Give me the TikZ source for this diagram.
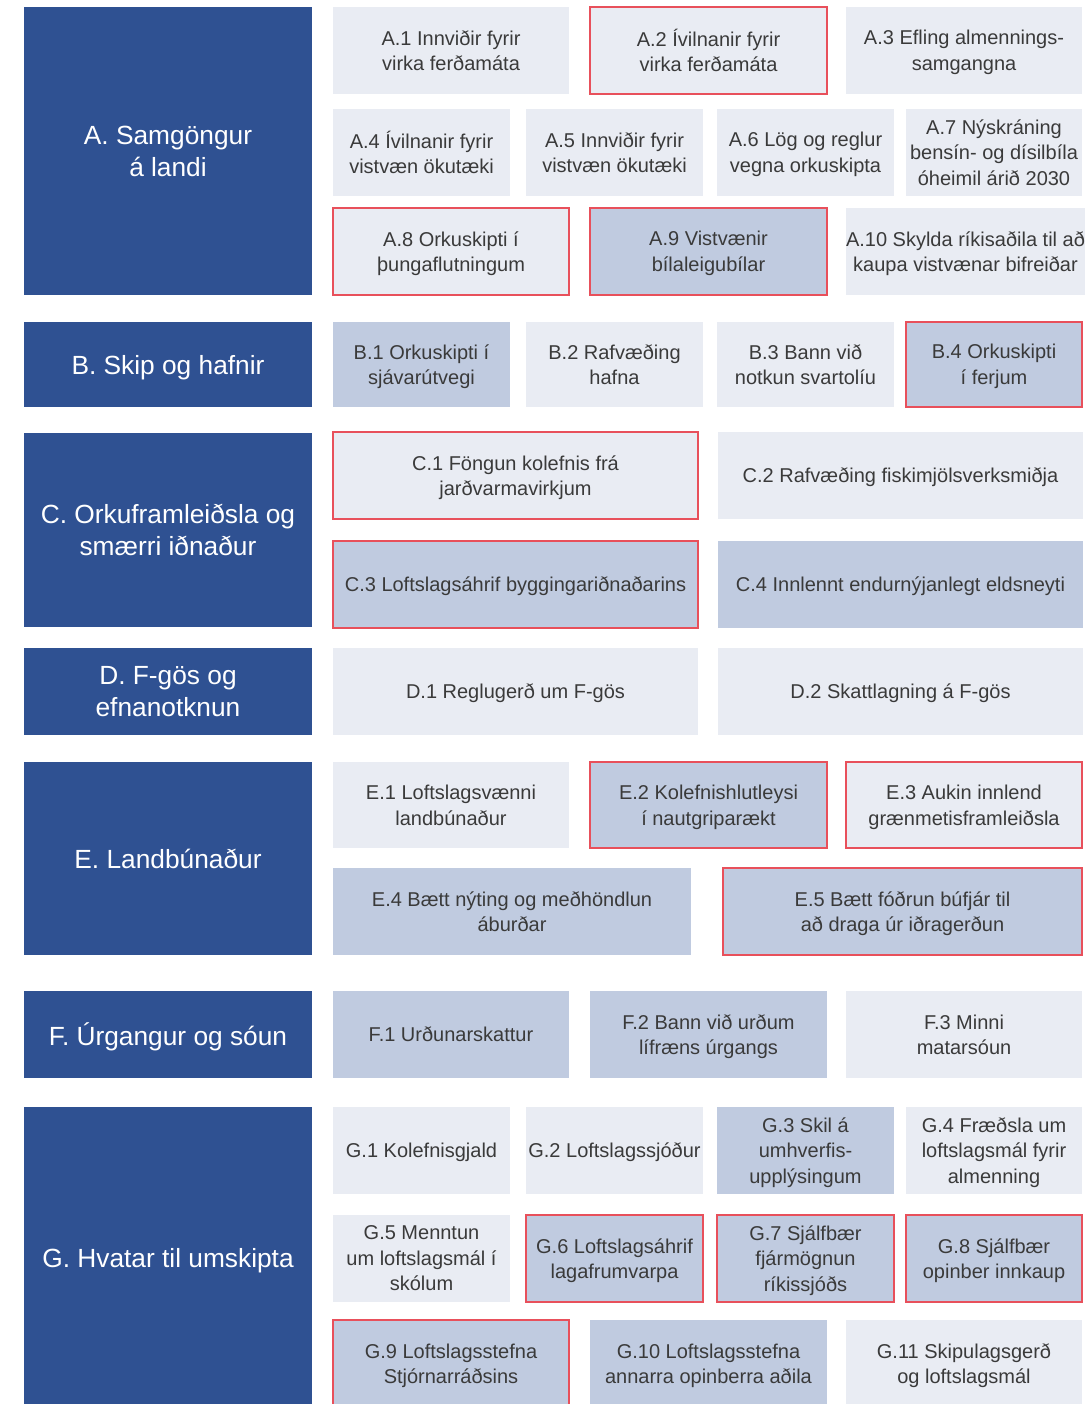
\documentclass[tikz,border=0pt]{standalone}
\usepackage{fontspec}
\setmainfont{Liberation Sans}
\usepackage{tikz}
\usetikzlibrary{positioning}
\definecolor{headblue}{HTML}{2F5192}
\definecolor{lightcell}{HTML}{E9ECF3}
\definecolor{midcell}{HTML}{C0CBE0}
\definecolor{flagred}{HTML}{E8505B}
\definecolor{cellText}{HTML}{3A3A3A}
\tikzset{
head_box/.style={
	% The shape:
	rectangle,
	% The size:
	minimum width=288pt,
	% The filling:
	fill=headblue,
	% Font
	text=white,
	font=\fontsize{26.3}{32}\selectfont,
	% center on the baselines, not on the descenders
	text depth=0pt
},
light_box/.style={
	rectangle,
	minimum height=87pt,
	fill=lightcell,
	text=cellText,
	font=\fontsize{20}{25.5}\selectfont,
	text depth=0pt
},
mid_box/.style={
	light_box,
	fill=midcell
},
% red border on top of either box
red_edge/.style={draw=flagred,line width=1.4pt}
}

\begin{document}
\begin{tikzpicture}[x=1pt,y=-1pt,inner sep=0pt,outer sep=0pt,align=center]
	\useasboundingbox (0,0) rectangle (1091,1404);
	\clip (0,0) rectangle (1091,1404);
	\fill[white] (0,0) rectangle (1091,1404);

	% A. Samgongur a landi
	\node[head_box,anchor=north west,minimum height=288pt] (hA) at (24,7) {A. Samgöngur\\á landi};
	\node[light_box,anchor=north west,minimum width=236pt] (a1) at (333,7) {A.1 Innviðir fyrir\\virka ferðamáta};
	\node[light_box,red_edge,minimum width=237pt] (a2) [right=21pt of a1] {A.2 Ívilnanir fyrir\\virka ferðamáta};
	\node[light_box,minimum width=236pt] (a3) [right=19pt of a2] {A.3 Efling almennings-\\samgangna};
	\node[light_box,anchor=north west,minimum width=177pt] (a4) at (333,109) {A.4 Ívilnanir fyrir\\vistvæn ökutæki};
	\node[light_box,minimum width=177pt] (a5) [right=16pt of a4] {A.5 Innviðir fyrir\\vistvæn ökutæki};
	\node[light_box,minimum width=177pt] (a6) [right=14pt of a5] {A.6 Lög og reglur\\vegna orkuskipta};
	\node[light_box,minimum width=176pt] (a7) [right=12pt of a6] {A.7 Nýskráning\\bensín- og dísilbíla\\óheimil árið 2030};
	\node[light_box,red_edge,anchor=north west,minimum width=236pt] (a8) at (333,208) {A.8 Orkuskipti í\\þungaflutningum};
	\node[mid_box,red_edge,minimum width=237pt] (a9) [right=21pt of a8] {A.9 Vistvænir\\bílaleigubílar};
	\node[light_box,minimum width=236pt] (a10) [right=19pt of a9] {A.10 Skylda ríkisaðila til að\\kaupa vistvænar bifreiðar};

	% B. Skip og hafnir
	\node[head_box,anchor=north west,minimum height=85pt] (hB) at (24,322) {B. Skip og hafnir};
	\node[mid_box,anchor=north west,minimum width=177pt,minimum height=85pt] (b1) at (333,322) {B.1 Orkuskipti í\\sjávarútvegi};
	\node[light_box,minimum width=177pt,minimum height=85pt] (b2) [right=16pt of b1] {B.2 Rafvæðing\\hafna};
	\node[light_box,minimum width=177pt,minimum height=85pt] (b3) [right=14pt of b2] {B.3 Bann við\\notkun svartolíu};
	\node[mid_box,red_edge,minimum width=176pt,minimum height=85pt] (b4) [right=12pt of b3] {B.4 Orkuskipti\\í ferjum};

	% C. Orkuframleidsla og smaerri idnadur
	\node[head_box,anchor=north west,minimum height=194pt] (hC) at (24,433) {C. Orkuframleiðsla og\\smærri iðnaður};
	\node[light_box,red_edge,anchor=north west,minimum width=365pt] (c1) at (333,432) {C.1 Föngun kolefnis frá\\jarðvarmavirkjum};
	\node[light_box,minimum width=365pt] (c2) [right=20pt of c1] {C.2 Rafvæðing fiskimjölsverksmiðja};
	\node[mid_box,red_edge,anchor=north west,minimum width=365pt] (c3) at (333,541) {C.3 Loftslagsáhrif byggingariðnaðarins};
	\node[mid_box,minimum width=365pt] (c4) [right=20pt of c3] {C.4 Innlennt endurnýjanlegt eldsneyti};

	% D. F-gos og efnanotkun
	\node[head_box,anchor=north west,minimum height=87pt] (hD) at (24,648) {D. F-gös og\\efnanotknun};
	\node[light_box,anchor=north west,minimum width=365pt] (d1) at (333,648) {D.1 Reglugerð um F-gös};
	\node[light_box,minimum width=365pt] (d2) [right=20pt of d1] {D.2 Skattlagning á F-gös};

	% E. Landbunadur
	\node[head_box,anchor=north west,minimum height=193pt] (hE) at (24,762) {E. Landbúnaður};
	\node[light_box,anchor=north west,minimum width=236pt,minimum height=86pt] (e1) at (333,762) {E.1 Loftslagsvænni\\landbúnaður};
	\node[mid_box,red_edge,minimum width=237pt,minimum height=86pt] (e2) [right=21pt of e1] {E.2 Kolefnishlutleysi\\í nautgriparækt};
	\node[light_box,red_edge,minimum width=236pt,minimum height=86pt] (e3) [right=19pt of e2] {E.3 Aukin innlend\\grænmetisframleiðsla};
	\node[mid_box,anchor=north west,minimum width=358pt] (e4) at (333,868) {E.4 Bætt nýting og meðhöndlun\\áburðar};
	\node[mid_box,red_edge,minimum width=359pt] (e5) [right=32pt of e4] {E.5 Bætt fóðrun búfjár til\\að draga úr iðragerðun};

	% F. Urgangur og soun
	\node[head_box,anchor=north west,minimum height=87pt] (hF) at (24,991) {F. Úrgangur og sóun};
	\node[mid_box,anchor=north west,minimum width=236pt] (f1) at (333,991) {F.1 Urðunarskattur};
	\node[mid_box,minimum width=237pt] (f2) [right=21pt of f1] {F.2 Bann við urðum\\lífræns úrgangs};
	\node[light_box,minimum width=236pt] (f3) [right=19pt of f2] {F.3 Minni\\matarsóun};

	% G. Hvatar til umskipta
	\node[head_box,anchor=north west,minimum height=302pt] (hG) at (24,1107) {G. Hvatar til umskipta};
	\node[light_box,anchor=north west,minimum width=177pt] (g1) at (333,1107) {G.1 Kolefnisgjald};
	\node[light_box,minimum width=177pt] (g2) [right=16pt of g1] {G.2 Loftslagssjóður};
	\node[mid_box,minimum width=177pt] (g3) [right=14pt of g2] {G.3 Skil á\\umhverfis-\\upplýsingum};
	\node[light_box,minimum width=176pt] (g4) [right=12pt of g3] {G.4 Fræðsla um\\loftslagsmál fyrir\\almenning};
	\node[light_box,anchor=north west,minimum width=177pt] (g5) at (333,1215) {G.5 Menntun\\um loftslagsmál í\\skólum};
	\node[mid_box,red_edge,minimum width=177pt] (g6) [right=16pt of g5] {G.6 Loftslagsáhrif\\lagafrumvarpa};
	\node[mid_box,red_edge,minimum width=177pt] (g7) [right=14pt of g6] {G.7 Sjálfbær\\fjármögnun\\ríkissjóðs};
	\node[mid_box,red_edge,minimum width=176pt] (g8) [right=12pt of g7] {G.8 Sjálfbær\\opinber innkaup};
	\node[mid_box,red_edge,anchor=north west,minimum width=236pt] (g9) at (333,1320) {G.9 Loftslagsstefna\\Stjórnarráðsins};
	\node[mid_box,minimum width=237pt] (g10) [right=21pt of g9] {G.10 Loftslagsstefna\\annarra opinberra aðila};
	\node[light_box,minimum width=236pt] (g11) [right=19pt of g10] {G.11 Skipulagsgerð\\og loftslagsmál};
\end{tikzpicture}
\end{document}
